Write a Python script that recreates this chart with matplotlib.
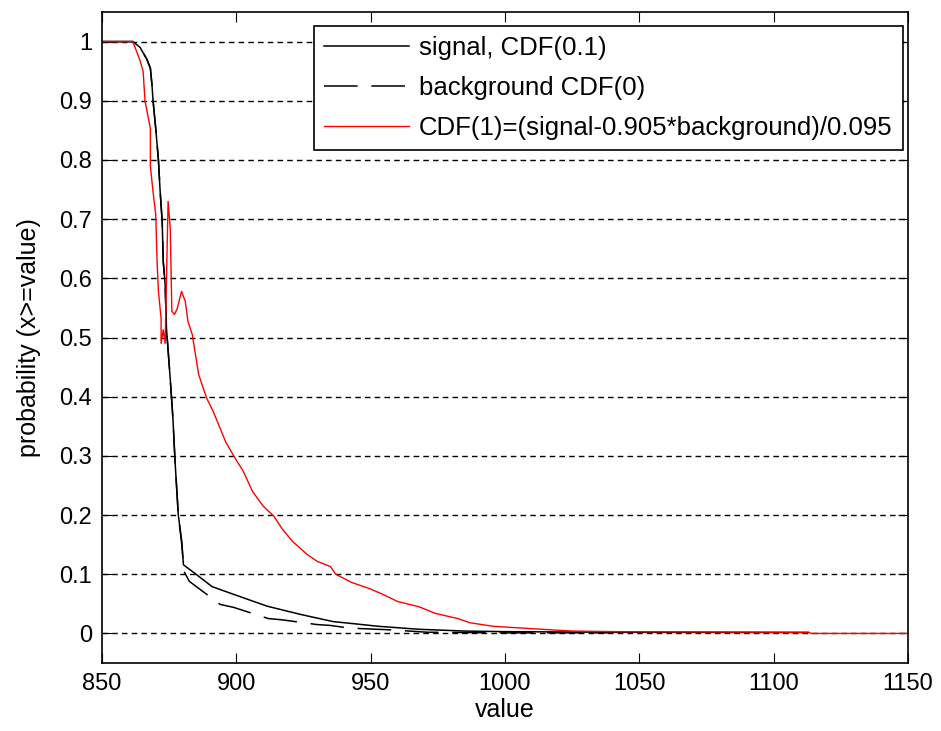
import matplotlib
matplotlib.use("Agg")
import matplotlib.pyplot as plt

plt.rcParams['font.family'] = ['Liberation Sans', 'DejaVu Sans']

# signal CDF (x >= value)
value_sig = [850, 861.5, 864.2, 866.7, 868, 868.6, 869, 870, 871, 871.6,
             872.4, 872.8, 873.5, 874, 875.4, 876.4, 877.2, 878.4, 879.7, 880.3,
             885, 891, 899, 911.5, 924, 936, 942.5, 953, 968, 985,
             1000, 1040, 1113]
cdf_sig = [1, 1, 0.99, 0.97, 0.955, 0.927, 0.9, 0.853, 0.8, 0.75,
           0.696, 0.628, 0.59, 0.515, 0.43, 0.363, 0.29, 0.2, 0.155, 0.116,
           0.1, 0.079, 0.066, 0.046, 0.032, 0.02, 0.017, 0.012, 0.007, 0.004,
           0.003, 0.002, 0.0015]

# background CDF
value_bg = [850, 861.5, 864.2, 866.7, 868, 868.6, 869, 870, 871, 871.6,
            872.4, 872.8, 873.5, 874, 875.4, 876.4, 877.2, 878.4, 879.7, 880.5,
            882.5, 894, 899, 912, 917, 930, 935, 942, 957.6, 971,
            1000, 1040]
cdf_bg = [1, 1, 0.99, 0.97, 0.955, 0.927, 0.9, 0.853, 0.8, 0.75,
          0.696, 0.628, 0.59, 0.515, 0.43, 0.363, 0.29, 0.2, 0.15, 0.105,
          0.088, 0.049, 0.044, 0.025, 0.023, 0.015, 0.0135, 0.009, 0.006, 0.002,
          0.001, 0.001]

# CDF(1) = (signal - 0.905*background) / 0.095
value_red = [850, 861.5, 864, 865.3, 866, 868, 868, 869, 870, 870.5,
             871, 872, 872, 872.8, 873.5, 874.6, 875.4, 876, 877, 878,
             879.6, 881, 882, 883.6, 886, 889, 891.4, 896, 899, 902.6,
             906, 910, 914, 917, 921, 926.5, 930, 935, 937, 943,
             950, 955, 960, 968, 974, 982.5, 987, 995.7, 1010, 1025,
             1041, 1113, 1114, 1150]
cdf_red = [1, 1, 0.97, 0.95, 0.9, 0.853, 0.79, 0.746, 0.708, 0.628,
           0.578, 0.532, 0.49, 0.513, 0.49, 0.73, 0.684, 0.544, 0.539, 0.549,
           0.578, 0.561, 0.527, 0.505, 0.437, 0.397, 0.375, 0.324, 0.3, 0.274,
           0.24, 0.215, 0.198, 0.177, 0.155, 0.133, 0.122, 0.113, 0.1, 0.086,
           0.075, 0.065, 0.054, 0.045, 0.034, 0.025, 0.018, 0.012, 0.008, 0.004,
           0.003, 0.002, 0, 0]

fig = plt.figure(figsize=(9.41, 7.31), dpi=100)
ax = fig.add_axes([0.1084, 0.093, 0.8565, 0.8906])

ax.plot(value_sig, cdf_sig, color="k", lw=1.1, label="signal, CDF(0.1)")
ax.plot(value_bg, cdf_bg, color="k", lw=1.1, dashes=(22, 9),
        label="background CDF(0)")
ax.plot(value_red, cdf_red, color="red", lw=1.0,
        label="CDF(1)=(signal-0.905*background)/0.095")

ax.set_xlim(850, 1150)
ax.set_ylim(-0.05, 1.05)
ax.set_xticks(range(850, 1151, 50))
ax.set_yticks([i / 10 for i in range(11)])
ax.set_yticklabels(["0", "0.1", "0.2", "0.3", "0.4", "0.5", "0.6", "0.7",
                    "0.8", "0.9", "1"])
ax.yaxis.grid(True, color="k", linestyle=(0, (4, 3)), lw=1.0)
ax.tick_params(direction="in", top=True, right=True, length=7,
               labelsize=17, pad=7)
for s in ax.spines.values():
    s.set_linewidth(1.2)

ax.set_xlabel("value", fontsize=18, labelpad=2)
ax.set_ylabel("probability (x>=value)", fontsize=18, labelpad=13)

leg = ax.legend(loc="upper right", bbox_to_anchor=(0.9938, 0.9785),
                fontsize=18.5, handlelength=3.3, fancybox=False, framealpha=1,
                edgecolor="k", borderaxespad=0, borderpad=0.4,
                labelspacing=0.62, handletextpad=0.4)
leg.get_frame().set_linewidth(1.2)

fig.savefig("out.png", dpi=100)
